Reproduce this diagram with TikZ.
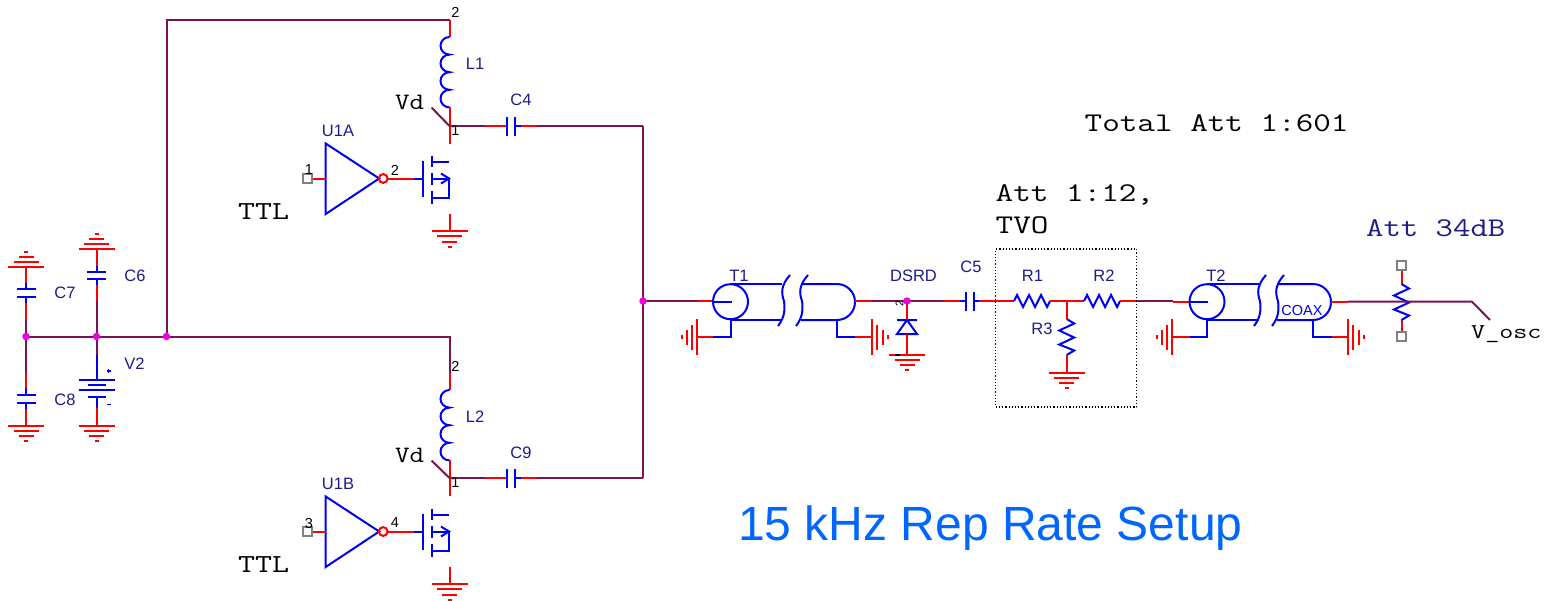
\documentclass[tikz,border=0pt]{standalone}
\usepackage{graphicx}
\usepackage{fontspec}
\setmainfont{Liberation Sans}
\definecolor{wire}{HTML}{7B1450}
\definecolor{lead}{HTML}{FF0000}
\definecolor{part}{HTML}{0000F0}
\definecolor{lab}{HTML}{1C1C8C}
\definecolor{dotc}{HTML}{F000E0}
\definecolor{pin}{HTML}{808080}
\definecolor{big}{HTML}{0066FF}
\newcommand\monotext[3]{{\fontsize{#1}{#1}\selectfont\ttfamily\scalebox{#2}[1]{#3}}}
\tikzset{
  wr/.style={draw=wire,line width=2pt},
  ld/.style={draw=lead,line width=2pt},
  pt/.style={draw=part,line width=2pt},
  jun/.style={circle,fill=dotc,inner sep=0pt,minimum size=7.5pt},
  pinbox/.style={draw=pin,fill=white,line width=1.5pt,minimum size=9pt,inner sep=0pt},
  lbl/.style={text=lab,font=\fontsize{16.5}{16.5}\selectfont,inner sep=0pt},
  num/.style={text=black,font=\fontsize{14.5}{14.5}\selectfont,inner sep=0pt},
  mono/.style={text=black,inner sep=0pt,anchor=base west},
  gnd/.pic={
    \draw[ld] (-18,0)--(18,0) (-12.5,5)--(12.5,5) (-7.5,10.5)--(7.5,10.5) (-2,15.5)--(2,15.5);
  },
  coil/.pic={
    \draw[pt] (0,0) arc[start angle=270,end angle=90,x radius=9,y radius=8.8]
      arc[start angle=270,end angle=90,x radius=9,y radius=8.8]
      arc[start angle=270,end angle=90,x radius=9,y radius=8.8]
      arc[start angle=270,end angle=90,x radius=9,y radius=8.8];
  },
  zig/.pic={
    \draw[pt,line join=miter] (0,0)--(3,-6)--(9,6)--(15,-6)--(21,6)--(27,-6)--(33,6)--(36,0);
  },
  zigv/.pic={
    \draw[pt,line join=miter] (0,0)--(7.5,4.5)--(-7.5,11.5)--(7.5,18.5)--(-7.5,25.5)--(7.5,31.5)--(0,36);
  },
  nmos/.pic={
    \draw[pt] (-26,-18)--(-26,18.5);
    \draw[pt] (-17,-23)--(-17,-12) (-17,-6)--(-17,6) (-17,12)--(-17,25);
    \draw[pt] (-17,-17)--(0,-17) (-17,19)--(0,19)--(0,0)--(-17,0);
    \draw[pt] (-8,-5)--(0,0)--(-8,5);
  },
  inv/.pic={
    \draw[pt,line join=miter] (0,-35)--(0,35.5)--(53.5,0)--cycle;
    \draw[lead,line width=2pt] (57.5,0) circle[radius=4.4];
  },
  break/.pic={
    \draw[pt] (12,-26) .. controls (3,-16) and (3,-8) .. (6,0) .. controls (7,8) and (7,16) .. (0,25);
  },
}
\begin{document}
\begin{tikzpicture}[x=1pt,y=-1pt]
\useasboundingbox (0,0) rectangle (1544,600);
% junctions and key points
\coordinate (jA) at (26,336.5);
\coordinate (jB) at (96.5,336.5);
\coordinate (jC) at (166.5,336.5);
\coordinate (topL) at (166.5,20);
\coordinate (topR) at (449.5,20);
\coordinate (midR) at (449.5,336.5);
\coordinate (d1) at (449.5,126);
\coordinate (d2) at (449.5,478);
\coordinate (bus1) at (643,126);
\coordinate (bus2) at (643,478);
\coordinate (jD) at (643,301);
\coordinate (jE) at (907,301);

% main wires
\draw[wr] (jA)--(midR)--(449.5,373);
\draw[wr] (jC)--(topL)--(topR);
\draw[wr] (bus1)--(bus2);
\draw[wr] (jD)--(698,301);

% C7
\draw[wr] (jA)--(26,320);
\draw[ld] (26,320)--(26,303);
\draw[pt] (26,303)--(26,296.7) (26,289.3)--(26,283);
\draw[ld] (26,283)--(26,267);
\draw[pt] (16.5,296.7)--(35.5,296.7) (16.5,289.3)--(35.5,289.3);
\pic[yscale=-1] at (26,267) {gnd};
% C6
\draw[wr] (jB)--(96.5,301);
\draw[ld] (96.5,301)--(96.5,285);
\draw[pt] (96.5,285)--(96.5,279.3) (96.5,271.7)--(96.5,266);
\draw[ld] (96.5,266)--(96.5,249);
\draw[pt] (87,279.3)--(106,279.3) (87,271.7)--(106,271.7);
\pic[yscale=-1] at (96.5,249) {gnd};
% C8
\draw[wr] (jA)--(26,373);
\draw[ld] (26,373)--(26,388);
\draw[pt] (26,388)--(26,395) (26,402.7)--(26,409);
\draw[ld] (26,409)--(26,425.7);
\draw[pt] (16.5,395)--(35.5,395) (16.5,402.7)--(35.5,402.7);
\pic at (26,425.7) {gnd};
% V2
\draw[wr] (jB)--(96.5,355);
\draw[pt] (96.5,355)--(96.5,380) (96.5,397.3)--(96.5,408);
\draw[ld] (96.5,408)--(96.5,425.7);
\draw[pt] (78.5,380)--(114.5,380) (87.5,385)--(105.5,385) (78.5,390)--(114.5,390) (87.5,397.3)--(105.5,397.3);
\draw[part,line width=1.3pt] (106.5,371)--(111,371) (108.7,369)--(108.7,373) (106.5,404.5)--(110.5,404.5);
\pic at (96.5,425.7) {gnd};

% upper branch
\draw[ld] (topR)--(449.5,37);
\pic at (449.5,37) {coil};
\draw[ld] (449.5,107)--(449.5,143.5);
\draw[wr] (431.5,107.5)--(d1);
\draw[wr] (d1)--(485,126);
\draw[ld] (485,126)--(507,126);
\draw[pt] (507,116.5)--(507,135.5) (515,116.5)--(515,135.5) (515,126)--(521,126);
\draw[ld] (521,126)--(537,126);
\draw[wr] (537,126)--(bus1);
\pic at (449,178.5) {nmos};
\draw[ld] (449.5,213.5)--(449.5,231);
\pic at (449.5,231) {gnd};
\pic at (325.7,178.5) {inv};
\draw[ld] (388,178.5)--(414,178.5);
\draw[pt] (414,178.5)--(423,178.5);
\draw[ld] (312,178.5)--(325.7,178.5);
\node[pinbox] (pinA) at (307.5,178.5) {};

% lower branch
\draw[ld] (449.5,373)--(449.5,390);
\pic at (449.5,390) {coil};
\draw[ld] (449.5,460)--(449.5,496);
\draw[wr] (431.5,460.5)--(d2);
\draw[wr] (d2)--(485,478);
\draw[ld] (485,478)--(507,478);
\draw[pt] (507,468.5)--(507,487.5) (515,468.5)--(515,487.5) (515,478)--(521,478);
\draw[ld] (521,478)--(537,478);
\draw[wr] (537,478)--(bus2);
\pic at (449,531.5) {nmos};
\draw[ld] (449.5,566.5)--(449.5,584);
\pic at (449.5,584) {gnd};
\pic at (325.7,531.5) {inv};
\draw[ld] (388,531.5)--(414,531.5);
\draw[pt] (414,531.5)--(423,531.5);
\draw[ld] (312,531.5)--(325.7,531.5);
\node[pinbox] (pinB) at (307.5,531.5) {};

% T1
\draw[ld] (698,301)--(713,301);
\draw[pt] (730.5,301.7) circle[radius=17.5];
\draw[pt] (713,301.7)--(732,301.7);
\draw[pt] (731,284)--(782,284) (731,320)--(782,320);
\pic at (778,301) {break};
\pic at (796,301) {break};
\draw[pt] (801,284)--(837,284) arc[start angle=-90,end angle=90,radius=18]--(801,320);
\draw[pt] (731,320)--(731,337.3)--(713,337.3);
\draw[ld] (713,337.3)--(697,337.3);
\pic[rotate=-90] at (697,337.3) {gnd};
\draw[pt] (837,320)--(837,337.3)--(855,337.3);
\draw[ld] (855,337.3)--(872,337.3);
\pic[rotate=90] at (872,337.3) {gnd};

% to DSRD
\draw[ld] (855,301)--(872,301);
\draw[wr] (872,301)--(943,301);
\draw[ld] (jE)--(907,320);
\draw[pt,line join=miter] (897,320)--(917,320) (907,320)--(897,334)--(917,334)--cycle;
\draw[ld] (907,334)--(907,354.5);
\pic at (907,354.5) {gnd};
\draw[black,line width=1.3pt] (895,355)--(900,355);
\node[num,rotate=90,font=\fontsize{11}{11}\selectfont] (pin2) at (899.5,303) {2};

% C5
\draw[ld] (943,301)--(960,301);
\draw[pt] (960,301)--(966,301) (966,292)--(966,311) (973.5,292)--(973.5,311) (973.5,301)--(979,301);
\draw[ld] (979,301)--(1014,301);
\pic at (1014,301) {zig};
\draw[ld] (1050,301)--(1084,301);
\pic at (1084,301) {zig};
\draw[ld] (1120,301)--(1137,301);
\draw[wr] (1137,301)--(1173,301);
\draw[ld] (1066.7,301)--(1066.7,319);
\pic at (1066.7,319) {zigv};
\draw[ld] (1066.7,355)--(1066.7,372.7);
\pic at (1066.7,372.7) {gnd};
\node[draw=black,dotted,line width=1.2pt,minimum width=141pt,minimum height=158pt,inner sep=0pt] (box) at (1066.2,328) {};

% T2
\draw[ld] (1173,301.5)--(1190,301.5);
\draw[pt] (1207,301.7) circle[radius=17.5];
\draw[pt] (1190,301.7)--(1208,301.7);
\draw[pt] (1207,284)--(1259,284) (1207,320)--(1259,320);
\pic at (1254,301) {break};
\pic at (1272,301) {break};
\draw[pt] (1277,284)--(1313,284) arc[start angle=-90,end angle=90,radius=18]--(1277,320);
\draw[pt] (1207,320)--(1207,337.3)--(1190,337.3);
\draw[ld] (1190,337.3)--(1172,337.3);
\pic[rotate=-90] at (1172,337.3) {gnd};
\draw[pt] (1313,320)--(1313,337.3)--(1332,337.3);
\draw[ld] (1332,337.3)--(1348,337.3);
\pic[rotate=90] at (1348,337.3) {gnd};
\draw[ld] (1331,301.7)--(1348,301.7);

% pot
\node[pinbox] (potT) at (1401.5,265.7) {};
\node[pinbox] (potB) at (1401.5,336.7) {};
\draw[ld] (potT)--(1401.5,284);
\draw[ld] (1401.5,320)--(potB);
\pic at (1401.5,284) {zigv};
\coordinate (oscA) at (1472,301.7);
\coordinate (oscB) at (1490,320);
\draw[wr] (1348,301.7)--(oscA)--(oscB);

% junction dots
\node[jun] (dA) at (jA) {};
\node[jun] (dB) at (jB) {};
\node[jun] (dC) at (jC) {};
\node[jun] (dD) at (jD) {};
\node[jun] (dE) at (jE) {};

% labels
\node[lbl] (tC7) at (65,293) {C7};
\node[lbl] (tC6) at (135,275.5) {C6};
\node[lbl] (tC8) at (65,400) {C8};
\node[lbl] (tV2) at (134.5,363.5) {V2};
\node[lbl] (tL1) at (475,63.5) {L1};
\node[lbl] (tL2) at (475,416.5) {L2};
\node[lbl] (tC4) at (521,100) {C4};
\node[lbl] (tC9) at (521,453) {C9};
\node[lbl] (tU1A) at (338,130.5) {U1A};
\node[lbl] (tU1B) at (338,483.5) {U1B};
\node[lbl] (tT1) at (739,275.5) {T1};
\node[lbl] (tT2) at (1216,275.5) {T2};
\node[lbl] (tDSRD) at (913.5,276) {DSRD};
\node[lbl] (tC5) at (971,267) {C5};
\node[lbl] (tR1) at (1032.5,276) {R1};
\node[lbl] (tR2) at (1104,276) {R2};
\node[lbl] (tR3) at (1042,329) {R3};
\node[lbl,text=part,font=\fontsize{14.5}{14.5}\selectfont] (tCOAX) at (1302,310.5) {COAX};

\node[num] (n2a) at (455.5,12.5) {2};
\node[num] (n1a) at (455.5,131) {1};
\node[num] (n1b) at (309,170) {1};
\node[num] (n2b) at (395,170.5) {2};
\node[num] (n2c) at (455.5,366) {2};
\node[num] (n1c) at (455.5,483) {1};
\node[num] (n3) at (309,523) {3};
\node[num] (n4) at (395,523) {4};

\node[mono] (tVd1) at (395,109.3) {\monotext{23.5}{1.2}{Vd}};
\node[mono] (tVd2) at (395,462.3) {\monotext{23.5}{1.2}{Vd}};
\node[mono] (tTTL1) at (238,219.3) {\monotext{26}{1.27}{TTL}};
\node[mono] (tTTL2) at (238,572.5) {\monotext{26}{1.27}{TTL}};
\node[mono] (tosc) at (1471,338.3) {\monotext{21}{1.3}{V\_osc}};
\node[mono] (tTotal) at (1084.5,131.7) {\monotext{27}{1.265}{Total Att 1:601}};
\node[mono] (tAtt1) at (995.5,201.7) {\monotext{27}{1.265}{Att 1:12,}};
\node[mono] (tTVO) at (995.5,233.3) {\monotext{27}{1.265}{TVO}};
\node[mono,text=lab] (tAtt2) at (1366,236) {\monotext{27}{1.25}{Att 34dB}};
\node[inner sep=0pt,text=big,font=\fontsize{48}{48}\selectfont,anchor=base west] (title) at (738,540) {15 kHz Rep Rate Setup};
\end{tikzpicture}
\end{document}
